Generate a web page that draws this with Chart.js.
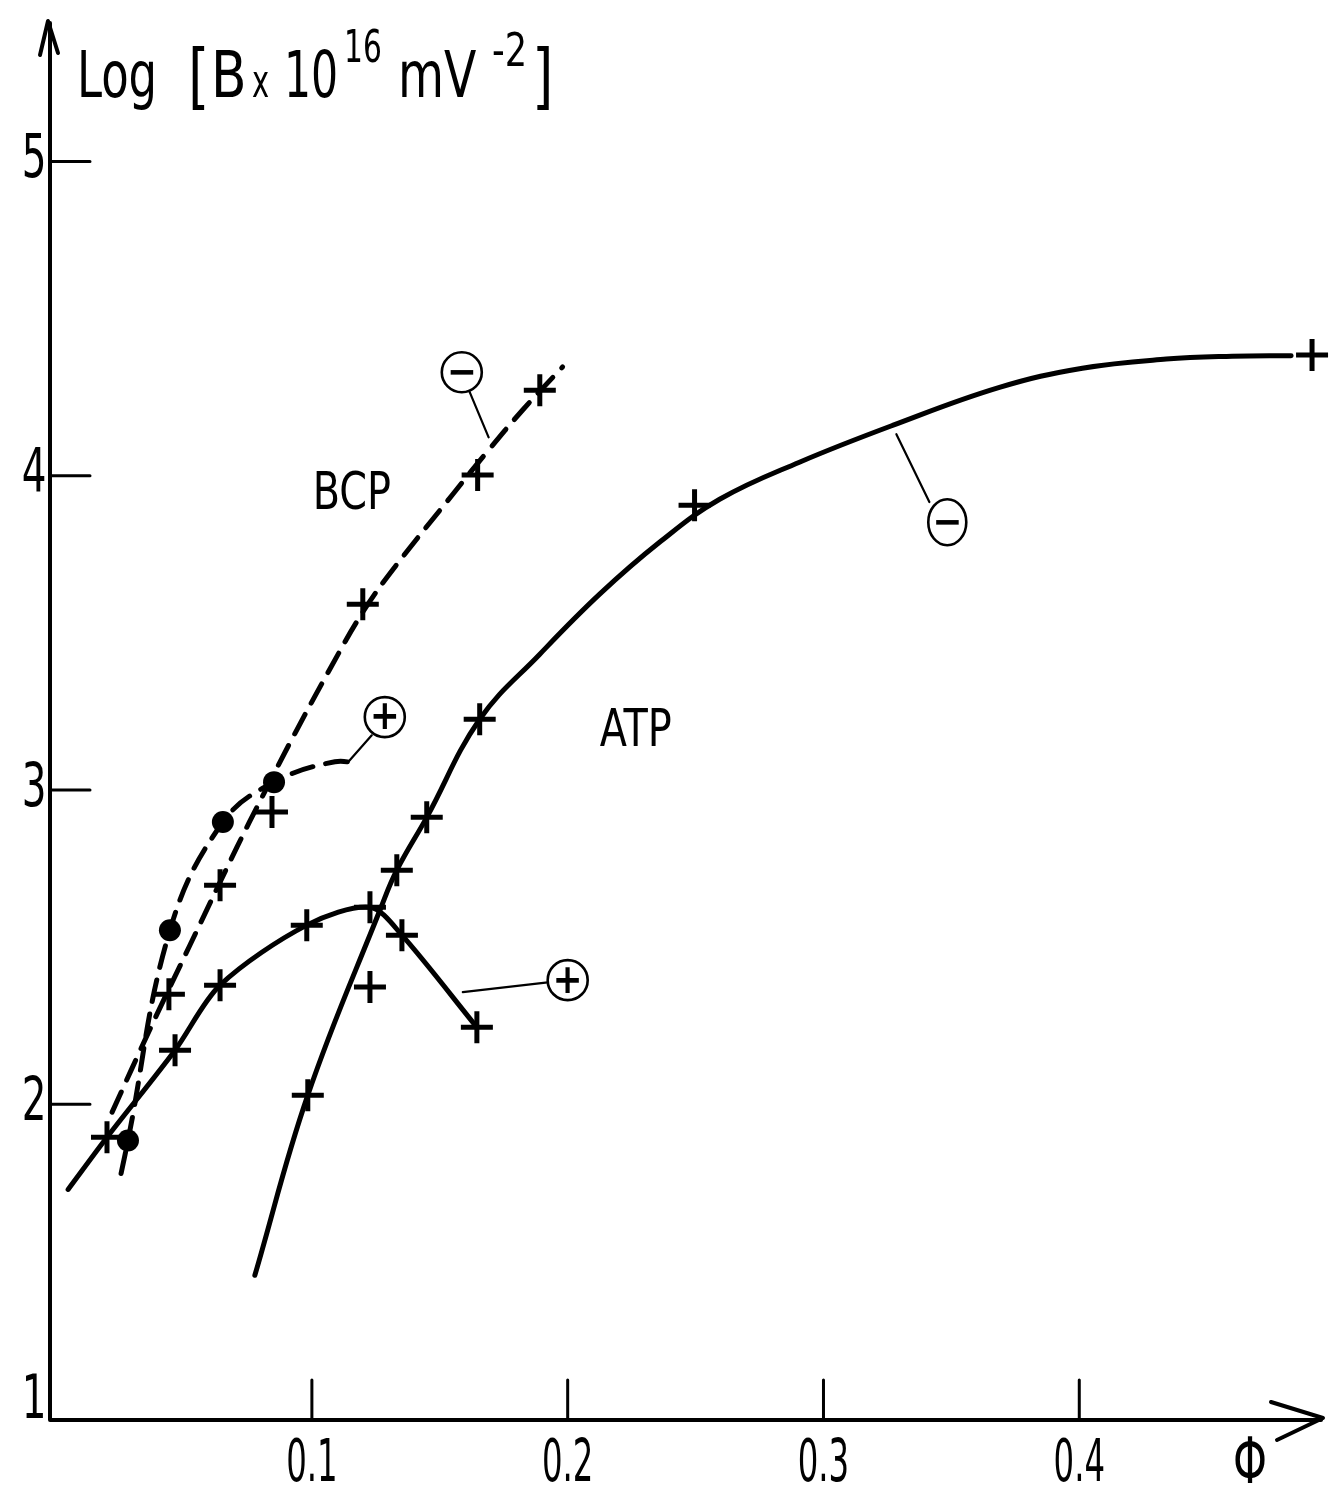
<!DOCTYPE html>
<html><head><meta charset="utf-8">
<script src="https://cdn.jsdelivr.net/npm/chart.js@4.4.1/dist/chart.umd.min.js"></script>
<style>html,body{margin:0;padding:0;background:#fff;}canvas{display:block;}</style>
</head><body>
<canvas id="c" width="1342" height="1490" style="width:1342px;height:1490px"></canvas>
<script>
// ---- data (phi, log B) ----
// ATP, negative (solid) curve path and measured crosses
const atpMinusCurvePhi = [0.0777, 0.0984, 0.1270, 0.1332, 0.1449, 0.1656, 0.1891, 0.2125, 0.2359, 0.2594, 0.2906, 0.3270, 0.3688, 0.4012, 0.4340, 0.4598, 0.4828];
const atpMinusCurveLog = [1.456, 2.029, 2.626, 2.745, 2.913, 3.225, 3.432, 3.623, 3.788, 3.925, 4.043, 4.160, 4.281, 4.342, 4.371, 4.380, 4.382];
const atpMinusPhi = [0.0984, 0.1332, 0.1449, 0.1656, 0.2496, 0.4910];
const atpMinusLog = [2.029, 2.745, 2.913, 3.225, 3.906, 4.384];
// ATP, positive (solid) curve
const atpPlusCurvePhi = [0.0047, 0.0199, 0.0465, 0.0641, 0.0980, 0.1227, 0.1352, 0.1645];
const atpPlusCurveLog = [1.729, 1.895, 2.172, 2.379, 2.570, 2.627, 2.538, 2.245];
const atpPlusPhi = [0.0199, 0.0465, 0.0641, 0.0980, 0.1227, 0.1352, 0.1645];
const atpPlusLog = [1.895, 2.172, 2.379, 2.570, 2.627, 2.538, 2.245];
const atpExtraPhi = [0.1227];
const atpExtraLog = [2.373];
// BCP, negative (dashed) curve path and crosses
const bcpMinusCurvePhi = [0.0219, 0.0367, 0.0523, 0.0707, 0.0805, 0.0922, 0.1070, 0.1199, 0.1324, 0.1551, 0.1684, 0.1824, 0.1980];
const bcpMinusCurveLog = [1.975, 2.239, 2.506, 2.818, 2.977, 3.162, 3.384, 3.566, 3.709, 3.941, 4.075, 4.209, 4.346];
const bcpMinusPhi = [0.0441, 0.0641, 0.0844, 0.1199, 0.1648, 0.1891];
const bcpMinusLog = [2.350, 2.697, 2.930, 3.591, 4.002, 4.272];
// BCP, positive (dashed) curve with dots
const bcpPlusCurvePhi = [0.0254, 0.0281, 0.0445, 0.0652, 0.0852, 0.1090, 0.1188];
const bcpPlusCurveLog = [1.780, 1.885, 2.554, 2.898, 3.025, 3.090, 3.082];
const bcpPlusPhi = [0.0281, 0.0445, 0.0652, 0.0852];
const bcpPlusLog = [1.885, 2.554, 2.898, 3.025];
// axis ticks
const xTickValues = [0.1, 0.2, 0.3, 0.4];
const xTickLabels = ['0.1', '0.2', '0.3', '0.4'];
const yTickValues = [1, 2, 3, 4, 5];
const yTickLabels = ['1', '2', '3', '4', '5'];
// curve labels (data coords)
const curveNames = ['BCP', 'ATP'];
const curveNamePhi = [0.1156, 0.2266];
const curveNameLog = [3.938, 3.184];
// circled sign labels: sign, centre, pointer start, pointer end
const signText = ['\u2212', '+', '+', '\u2212'];
const signPhi = [0.1586, 0.1285, 0.2000, 0.3484];
const signLog = [4.329, 3.232, 2.395, 3.852];
const pointerFromPhi = [0.1617, 0.1234, 0.1922, 0.3414];
const pointerFromLog = [4.266, 3.174, 2.388, 3.916];
const pointerToPhi = [0.1691, 0.1141, 0.1590, 0.3285];
const pointerToLog = [4.122, 3.088, 2.357, 4.132];

const pts = (xs, ys) => xs.map((x, i) => ({x: x, y: ys[i]}));
const FONT = '"DejaVu Sans Condensed", "DejaVu Sans", sans-serif';

function txt(ctx, s, x, y, size, sx, align, base, weight) {
  ctx.save();
  ctx.translate(x, y);
  ctx.scale(sx, 1);
  ctx.font = (weight || 'normal') + ' ' + size + 'px ' + FONT;
  ctx.textAlign = align || 'left';
  ctx.textBaseline = base || 'alphabetic';
  ctx.fillStyle = '#000';
  ctx.fillText(s, 0, 0);
  ctx.restore();
}

const decor = {
  id: 'decor',
  afterDatasetsDraw(chart) {
    const ctx = chart.ctx, xs = chart.scales.x, ys = chart.scales.y, a = chart.chartArea;
    const X = v => xs.getPixelForValue(v), Y = v => ys.getPixelForValue(v);
    ctx.save();
    ctx.strokeStyle = '#000'; ctx.lineCap = 'round'; ctx.lineJoin = 'round';
    // axes
    ctx.lineWidth = 4;
    ctx.beginPath();
    ctx.moveTo(a.left - 2, a.top - 2); ctx.lineTo(a.left - 2, a.bottom);
    ctx.lineTo(a.right, a.bottom);
    ctx.stroke();
    // arrows
    ctx.beginPath();
    ctx.moveTo(a.left - 12, a.top + 30); ctx.lineTo(a.left - 4, a.top - 4); ctx.lineTo(a.left + 6, a.top + 28);
    ctx.moveTo(a.right - 50, a.bottom - 18); ctx.lineTo(a.right + 2, a.bottom - 2); ctx.lineTo(a.right - 44, a.bottom + 20);
    ctx.stroke();
    // ticks
    ctx.lineWidth = 3;
    ctx.beginPath();
    xTickValues.forEach(v => { ctx.moveTo(X(v), a.bottom); ctx.lineTo(X(v), a.bottom - 40); });
    yTickValues.forEach(v => { if (v > 1) { ctx.moveTo(a.left - 2, Y(v)); ctx.lineTo(a.left + 38, Y(v)); } });
    ctx.stroke();
    // tick labels
    xTickLabels.forEach((s, i) => txt(ctx, s, X(xTickValues[i]), a.bottom + 46, 58, 0.62, 'center', 'middle'));
    yTickLabels.forEach((s, i) => txt(ctx, s, 34, Y(yTickValues[i]) - (i === 0 ? 16 : 0), 60, 0.72, 'center', 'middle'));
    txt(ctx, '\u03A6', 1250, a.bottom + 46, 64, 0.75, 'center', 'middle');
    // axis title
    txt(ctx, 'Log', 77, 97, 64, 0.78);
    txt(ctx, '[', 188, 100, 72, 0.85);
    txt(ctx, 'B', 211, 97, 64, 0.9);
    txt(ctx, 'x', 252, 97, 46, 0.7);
    txt(ctx, '10', 284, 97, 64, 0.74);
    txt(ctx, '16', 344, 62, 44, 0.75);
    txt(ctx, 'mV', 398, 97, 64, 0.82);
    txt(ctx, '-2', 492, 66, 46, 0.85);
    txt(ctx, ']', 532, 100, 72, 0.85);
    // curve names
    curveNames.forEach((s, i) => txt(ctx, s, X(curveNamePhi[i]), Y(curveNameLog[i]), 52, 0.85, 'center', 'middle'));
    // circled sign labels with pointers
    signText.forEach((s, i) => {
      ctx.lineWidth = 2.2;
      ctx.beginPath();
      ctx.moveTo(X(pointerFromPhi[i]), Y(pointerFromLog[i]));
      ctx.lineTo(X(pointerToPhi[i]), Y(pointerToLog[i]));
      ctx.stroke();
      const cx = X(signPhi[i]), cy = Y(signLog[i]);
      ctx.lineWidth = 2.6;
      ctx.beginPath();
      if (i === 3) ctx.ellipse(cx, cy, 19, 23, 0, 0, Math.PI * 2); else ctx.arc(cx, cy, 20, 0, Math.PI * 2);
      ctx.stroke();
      txt(ctx, s, cx, cy + 2, 40, 1, 'center', 'middle', 'bold');
    });
    ctx.restore();
  }
};

const curveBase = {showLine: true, pointRadius: 0, borderColor: '#000', borderWidth: 5,
  tension: 0.4, clip: false, borderCapStyle: 'round'};
const crossBase = {showLine: false, pointStyle: 'cross', pointRadius: 16, pointBorderWidth: 5,
  borderColor: '#000', backgroundColor: '#000', clip: false};

new Chart(document.getElementById('c'), {
  type: 'scatter',
  data: {datasets: [
    Object.assign({label: 'ATP \u2212', data: pts(atpMinusCurvePhi, atpMinusCurveLog)}, curveBase),
    Object.assign({label: 'ATP +', data: pts(atpPlusCurvePhi, atpPlusCurveLog)}, curveBase, {tension: 0.3}),
    Object.assign({label: 'BCP \u2212', data: pts(bcpMinusCurvePhi, bcpMinusCurveLog), borderDash: [22, 13]}, curveBase),
    Object.assign({label: 'BCP +', data: pts(bcpPlusCurvePhi, bcpPlusCurveLog), borderDash: [22, 13]}, curveBase),
    Object.assign({label: 'ATP \u2212 pts', data: pts(atpMinusPhi, atpMinusLog)}, crossBase),
    Object.assign({label: 'ATP + pts', data: pts(atpPlusPhi, atpPlusLog)}, crossBase),
    Object.assign({label: 'ATP extra', data: pts(atpExtraPhi, atpExtraLog)}, crossBase),
    Object.assign({label: 'BCP \u2212 pts', data: pts(bcpMinusPhi, bcpMinusLog)}, crossBase),
    {label: 'BCP + pts', data: pts(bcpPlusPhi, bcpPlusLog), showLine: false, pointStyle: 'circle',
      pointRadius: 11, pointBorderWidth: 0, backgroundColor: '#000', borderColor: '#000', clip: false}
  ]},
  options: {
    responsive: false, animation: false, devicePixelRatio: 1,
    layout: {padding: {left: 52, right: 20, top: 25, bottom: 70}},
    plugins: {legend: {display: false}, tooltip: {enabled: false}},
    scales: {
      x: {type: 'linear', display: false, min: -0.0016, max: 0.4945},
      y: {type: 'linear', display: false, min: 0.9955, max: 5.434}
    }
  },
  plugins: [decor]
});
</script>
</body></html>
